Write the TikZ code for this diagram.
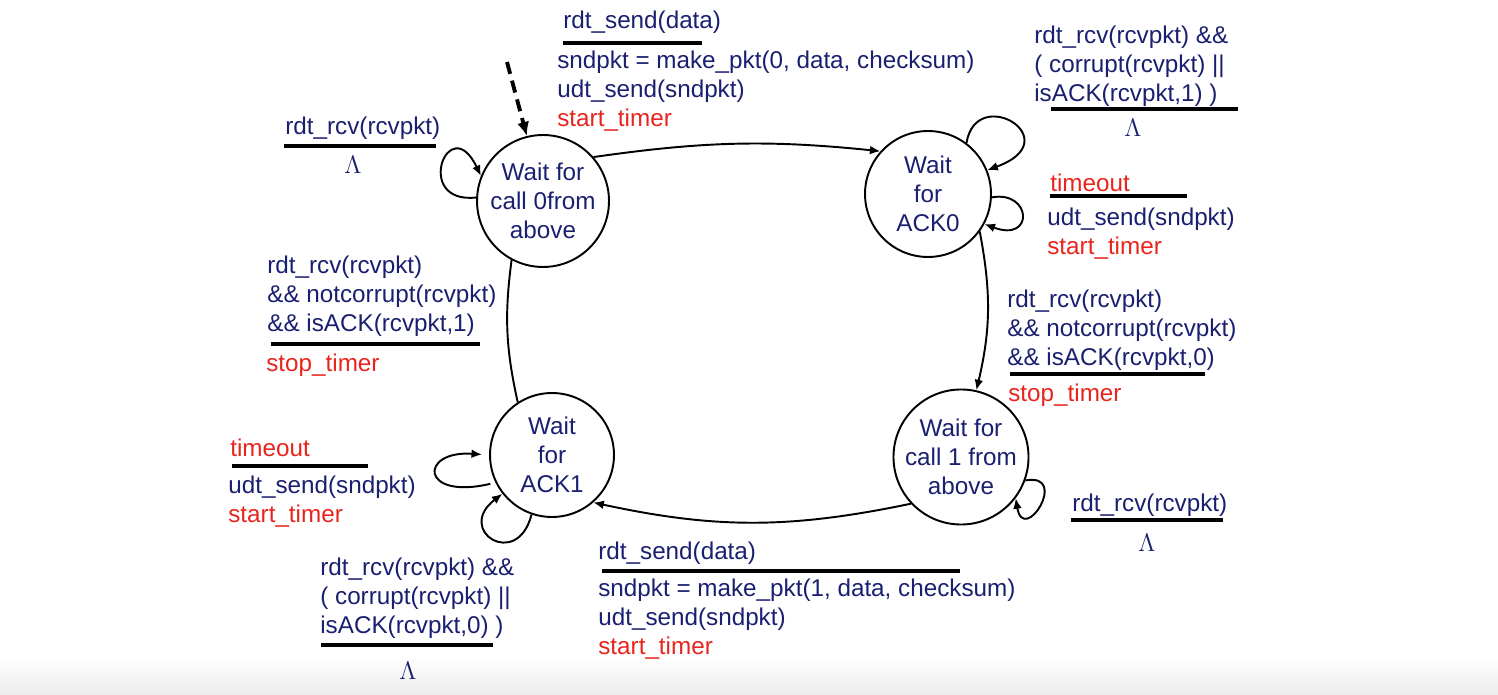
\documentclass[tikz,border=0pt]{standalone}
\usepackage{fontspec}
\setmainfont{Liberation Sans}
\usepackage{xcolor}
\definecolor{fsmblue}{HTML}{1A1F70}
\definecolor{fsmred}{HTML}{E8241C}
\usetikzlibrary{arrows.meta}
\newcommand{\act}[1]{\textcolor{fsmred}{#1}}

\begin{document}
\begin{tikzpicture}[x=0.02cm,y=0.02cm,>={Latex[length=6pt,width=5pt]}]
\tikzset{
 st/.style={circle,draw,line width=1.1pt,minimum size=2.64cm,inner sep=0pt,align=center,text=fsmblue,font=\fontsize{13.8}{16.5}\selectfont},
 lbl/.style={anchor=north west,inner sep=0pt,align=left,text=fsmblue,font=\fontsize{13.8}{16.5}\selectfont},
 lam/.style={inner sep=0pt,text=fsmblue,font=\fontsize{14}{16}\selectfont},
 a/.style={->,line width=1.1pt},
 guardbar/.style={line width=2.4pt}
}
\useasboundingbox (0,0) rectangle (1498,-695);
\shade[top color=white,bottom color=black!7] (0,-655) rectangle (1498,-695);

% states
\node[st] (w0) at (543,-201) {Wait for\\call 0from\\above};
\node[st,minimum size=2.52cm] (a0) at (928,-194) {Wait\\for\\ACK0};
\node[st] (w1) at (961,-457) {Wait for\\call 1 from\\above};
\node[st,minimum size=2.48cm] (a1) at (552,-455) {Wait\\for\\ACK1};

% transitions
\foreach \i/\j/\b in {w0.41/a0.138/7,a0.-36/w1.77/12,w1.223/a1.-49/12}{\draw[a] (\i) to[bend left=\b] (\j);}
\draw[line width=1.1pt] (a1.123) to[bend left=10] (w0.242);
\coordinate (init) at (507,-62);
\draw[->,>={Latex[length=8pt,width=7pt]},line width=2.2pt,dash pattern=on 7pt off 4pt] (init) -- (w0.104);

% self loops
\draw[a] (w0.177) .. controls +(-64,-7) and +(-32,67) .. (w0.158);
\draw[a] (a0.53) .. controls +(10,60) and +(83,30) .. (a0.22);
\draw[a] (a0.-3) .. controls +(40,7) and +(50,-19) .. (a0.-28);
\draw[a] (w1.-20) .. controls +(45,8) and +(8,-48) .. (w1.-37);
\draw[a,shorten >=4pt,shorten <=3pt] (a1.206) .. controls +(-76,-18) and +(-70,5) .. (a1.180);
\draw[a] (a1.251) .. controls +(-14,-56) and +(-48,-37) .. (a1.218);

% labels
\node[lbl] (sg0) at (563,-11) {rdt\_send(data)};
\draw[guardbar] (563,-43) -- (702,-43);
\node[lbl] (sa0) at (557,-51) {sndpkt = make\_pkt(0, data, checksum)\\udt\_send(sndpkt)\\\act{start\_timer}};

\node[lbl] (rg0) at (285,-117) {rdt\_rcv(rcvpkt)};
\draw[guardbar] (284,-146) -- (436,-146);
\node[lam] (rl0) at (353,-165) {$\Lambda$};

\node[lbl] (cg0) at (1034,-26) {rdt\_rcv(rcvpkt) \&\&\\( corrupt(rcvpkt) ||\\isACK(rcvpkt,1) )};
\draw[guardbar] (1051,-109) -- (1238,-109);
\node[lam] (cl0) at (1133,-128) {$\Lambda$};

\node[lbl] (tg0) at (1050,-174) {\act{timeout}};
\draw[guardbar] (1050,-196) -- (1187,-196);
\node[lbl] (ta0) at (1047,-208) {udt\_send(sndpkt)\\\act{start\_timer}};

\node[lbl] (ag0) at (1007,-290) {rdt\_rcv(rcvpkt)\\\&\& notcorrupt(rcvpkt)\\\&\& isACK(rcvpkt,0)};
\draw[guardbar] (1010,-374) -- (1205,-374);
\node[lbl] (aa0) at (1008,-384) {\act{stop\_timer}};

\node[lbl] (rg1) at (1072,-494) {rdt\_rcv(rcvpkt)};
\draw[guardbar] (1071,-520) -- (1223,-520);
\node[lam] (rl1) at (1147,-543) {$\Lambda$};

\node[lbl] (sg1) at (598,-542) {rdt\_send(data)};
\draw[guardbar] (602,-571) -- (960,-571);
\node[lbl] (sa1) at (598,-579) {sndpkt = make\_pkt(1, data, checksum)\\udt\_send(sndpkt)\\\act{start\_timer}};

\node[lbl] (cg1) at (320,-558) {rdt\_rcv(rcvpkt) \&\&\\( corrupt(rcvpkt) ||\\isACK(rcvpkt,0) )};
\draw[guardbar] (321,-645) -- (493,-645);
\node[lam] (cl1) at (408,-671) {$\Lambda$};

\node[lbl] (tg1) at (230,-439) {\act{timeout}};
\draw[guardbar] (232,-466) -- (368,-466);
\node[lbl] (ta1) at (228,-476) {udt\_send(sndpkt)\\\act{start\_timer}};

\node[lbl] (ag1) at (267,-256) {rdt\_rcv(rcvpkt)\\\&\& notcorrupt(rcvpkt)\\\&\& isACK(rcvpkt,1)};
\draw[guardbar] (271,-344) -- (480,-344);
\node[lbl] (aa1) at (266,-354) {\act{stop\_timer}};
\end{tikzpicture}
\end{document}
